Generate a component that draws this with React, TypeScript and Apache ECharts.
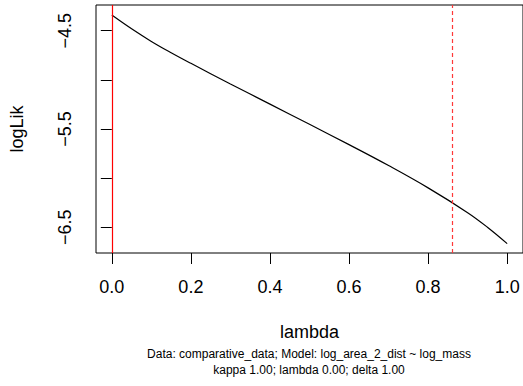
import React, { useEffect, useRef } from "react";
import * as echarts from "echarts";

const lambdaValues = [0, 0.05, 0.1, 0.15, 0.2, 0.3, 0.4, 0.5, 0.6, 0.7, 0.8, 0.9, 0.95, 1.0];
const logLikValues = [-4.341, -4.481, -4.609, -4.724, -4.832, -5.042, -5.247, -5.452, -5.659, -5.872, -6.099, -6.351, -6.499, -6.666];
const xTicks = [0, 0.2, 0.4, 0.6, 0.8, 1.0];
const yTicks = [-6.5, -6.0, -5.5, -5.0, -4.5];
const yLabelTicks = [-6.5, -5.5, -4.5];
const fittedLambda = 0;
const ciLambda = 0.861;
const subtitleLines = [
  "Data: comparative_data; Model: log_area_2_dist ~ log_mass",
  "kappa 1.00; lambda 0.00; delta 1.00",
];

const FONT = "'Liberation Sans', Arial, Helvetica, sans-serif";

export default function App() {
  const ref = useRef<HTMLDivElement>(null);
  useEffect(() => {
    if (!ref.current) return;
    const chart = echarts.init(ref.current, null, { renderer: "svg" });
    chart.setOption({
      animation: false,
      backgroundColor: "#ffffff",
      grid: {
        left: 95,
        top: 5,
        width: 428.5,
        height: 248,
        show: true,
        borderColor: "#000",
        borderWidth: 1,
        backgroundColor: "transparent",
      },
      xAxis: {
        type: "value",
        min: -0.04,
        max: 1.04,
        name: "lambda",
        nameLocation: "middle",
        nameGap: 70,
        nameTextStyle: { fontFamily: FONT, fontSize: 18, color: "#000" },
        axisLine: { show: false },
        splitLine: { show: false },
        axisTick: {
          show: true,
          customValues: xTicks,
          length: 11,
          lineStyle: { color: "#000" },
        },
        axisLabel: {
          customValues: xTicks,
          margin: 25,
          fontFamily: FONT,
          fontSize: 18,
          color: "#000",
          formatter: (v: number) => v.toFixed(1),
        },
      },
      yAxis: {
        type: "value",
        min: -6.7614,
        max: -4.2386,
        name: "logLik",
        nameLocation: "middle",
        nameRotate: 90,
        nameGap: 70,
        nameTextStyle: { fontFamily: FONT, fontSize: 18, color: "#000" },
        axisLine: { show: false },
        splitLine: { show: false },
        axisTick: {
          show: true,
          customValues: yTicks,
          length: 11,
          lineStyle: { color: "#000" },
        },
        axisLabel: {
          customValues: yLabelTicks,
          rotate: 90,
          margin: 22,
          fontFamily: FONT,
          fontSize: 18,
          color: "#000",
          formatter: (v: number) => v.toFixed(1).replace("-", "\u2212"),
        },
      },
      series: [
        {
          type: "line",
          data: lambdaValues.map((l, i) => [l, logLikValues[i]]),
          showSymbol: false,
          smooth: 0.4,
          lineStyle: { color: "#000", width: 1.2 },
          markLine: {
            silent: true,
            symbol: ["none", "none"],
            label: { show: false },
            data: [
              { xAxis: fittedLambda, lineStyle: { color: "#ff0000", type: "solid", width: 1.2 } },
              { xAxis: ciLambda, lineStyle: { color: "#ff3838", type: [4, 3], width: 1.2 } },
            ],
          },
        },
      ],
      graphic: subtitleLines.map((t, i) => ({
        type: "text",
        x: 309,
        y: 354 + i * 15.5,
        style: {
          text: t,
          fontFamily: FONT,
          fontSize: 12,
          fill: "#000",
          align: "center",
          verticalAlign: "middle",
        },
      })),
    });
    return () => chart.dispose();
  }, []);
  return (
    <div
      ref={ref}
      style={{ position: "fixed", left: 0, top: 0, width: 523, height: 386, background: "#fff" }}
    />
  );
}
